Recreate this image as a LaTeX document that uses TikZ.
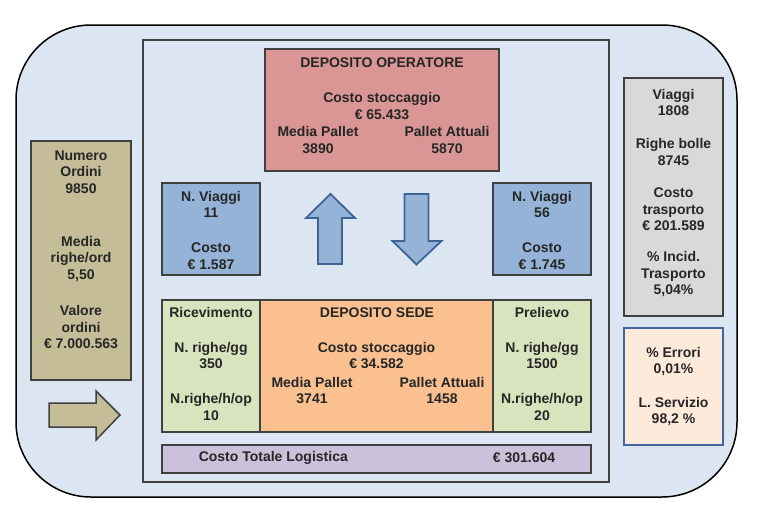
\documentclass[tikz,border=0pt]{standalone}
\usepackage{fontspec}
\setmainfont{Liberation Sans}
\usepackage{tikz}

\definecolor{bgblue}{HTML}{DCE6F2}
\definecolor{oprred}{HTML}{D99694}
\definecolor{viagblue}{HTML}{95B3D7}
\definecolor{arrblue}{HTML}{3D6494}
\definecolor{trgray}{HTML}{D9D9D9}
\definecolor{ordtan}{HTML}{C4BD97}
\definecolor{movgreen}{HTML}{D7E4BD}
\definecolor{sedeorange}{HTML}{FAC090}
\definecolor{totpurple}{HTML}{CCC1DA}
\definecolor{errpeach}{HTML}{FDEADA}
\definecolor{errborder}{HTML}{41669E}
\definecolor{edge}{HTML}{404040}
\definecolor{txtcol}{HTML}{262626}

\begin{document}
\begin{tikzpicture}[
                    x=1pt,
                    y=-1pt,
                    font=\bfseries\fontsize{14}{16.5}\selectfont,
                    box/.style={draw=edge, line width=1.5pt, inner sep=0pt, outer sep=0pt, anchor=north west},
                    txt/.style={text=txtcol, align=center, inner sep=0pt},
                    blockarrow/.style={line width=1.8pt, line join=miter}
                ]
                \useasboundingbox (0,0) rectangle (767,525);

                % frame
                \draw[fill=bgblue, line width=1.5pt, rounded corners=75pt] (16,25) rectangle (737,497);
                \draw[draw=edge, line width=1.5pt] (143,40) rectangle (609,482);

                % boxes
                \node[box, fill=ordtan, minimum width=100pt, minimum height=239pt] (ordini) at (31,141) {};
                \node[box, fill=oprred, minimum width=234pt, minimum height=122pt] (opr) at (265,49) {};
                \node[box, fill=viagblue, minimum width=98pt, minimum height=92pt] (viagL) at (162,183) {};
                \node[box, fill=viagblue, minimum width=98pt, minimum height=92pt] (viagR) at (493,183) {};
                \node[box, fill=movgreen, minimum width=98pt, minimum height=132pt] (ric) at (162,300) {};
                \node[box, fill=sedeorange, minimum width=233pt, minimum height=132pt] (sede) at (260,300) {};
                \node[box, fill=movgreen, minimum width=98pt, minimum height=132pt] (prel) at (493,300) {};
                \node[box, fill=totpurple, minimum width=429pt, minimum height=28pt] (totale) at (162,445) {};
                \node[box, fill=trgray, minimum width=99pt, minimum height=238pt] (trasp) at (624,78) {};
                \node[box, draw=errborder, fill=errpeach, minimum width=99pt, minimum height=117pt] (err) at (624,328) {};

                % block arrows
                \draw[blockarrow, draw=arrblue, fill=viagblue]
                    (318,264) -- (318,218) -- (306,218) -- (330.5,194) -- (355,218) -- (342,218) -- (342,264) -- cycle;
                \draw[blockarrow, draw=arrblue, fill=viagblue]
                    (404.5,194) -- (428.5,194) -- (428.5,241) -- (441.5,241) -- (416.5,264.5) -- (392.5,241) -- (404.5,241) -- cycle;
                \draw[blockarrow, draw=edge, fill=ordtan, line width=1.5pt]
                    (49,403) -- (96,403) -- (96,391) -- (120,415) -- (96,440) -- (96,427) -- (49,427) -- cycle;

                % texts
                \node[txt] (ordN) at (81,172) {Numero\\Ordini\\9850};
                \node[txt] (ordM) at (81,259) {Media\\righe/ord\\5,50};
                \node[txt] (ordV) at (81,327) {Valore\\ordini\\€ 7.000.563};

                \node[txt] (oprT) at (382,62.7) {DEPOSITO OPERATORE};
                \node[txt] (oprC) at (382,106) {Costo stoccaggio\\€ 65.433};
                \node[txt] (oprM) at (318,140) {Media Pallet\\3890};
                \node[txt] (oprA) at (447,140) {Pallet Attuali\\5870};

                \node[txt] (viagLn) at (211,204.5) {N. Viaggi\\11};
                \node[txt] (viagLc) at (211,256) {Costo\\€ 1.587};
                \node[txt] (viagRn) at (542,204.5) {N. Viaggi\\56};
                \node[txt] (viagRc) at (542,256) {Costo\\€ 1.745};

                \node[txt] (ricT) at (211,312.7) {Ricevimento};
                \node[txt] (ricG) at (211,355.3) {N. righe/gg\\350};
                \node[txt] (ricH) at (211,406.8) {N.righe/h/op\\10};

                \node[txt] (sedeT) at (377,312.7) {DEPOSITO SEDE};
                \node[txt] (sedeC) at (376.5,355.3) {Costo stoccaggio\\€ 34.582};
                \node[txt] (sedeM) at (312,390.3) {Media Pallet\\3741};
                \node[txt] (sedeA) at (442,390.3) {Pallet Attuali\\1458};

                \node[txt] (prelT) at (542,312.7) {Prelievo};
                \node[txt] (prelG) at (542,355.3) {N. righe/gg\\1500};
                \node[txt] (prelH) at (542,406.8) {N.righe/h/op\\20};

                \node[txt] (totT) at (273.3,457.7) {Costo Totale Logistica};
                \node[txt] (totV) at (524,457.7) {€ 301.604};

                \node[txt] (traspV) at (673.5,102.5) {Viaggi\\1808};
                \node[txt] (traspR) at (673.5,152) {Righe bolle\\8745};
                \node[txt] (traspC) at (673.5,209.3) {Costo\\trasporto\\€ 201.589};
                \node[txt] (traspI) at (673.5,274.3) {\% Incid.\\Trasporto\\5,04\%};

                \node[txt] (errE) at (673.5,361.7) {\% Errori\\0,01\%};
                \node[txt] (errS) at (673.5,411.7) {L. Servizio\\98,2 \%};
            \end{tikzpicture}
\end{document}
